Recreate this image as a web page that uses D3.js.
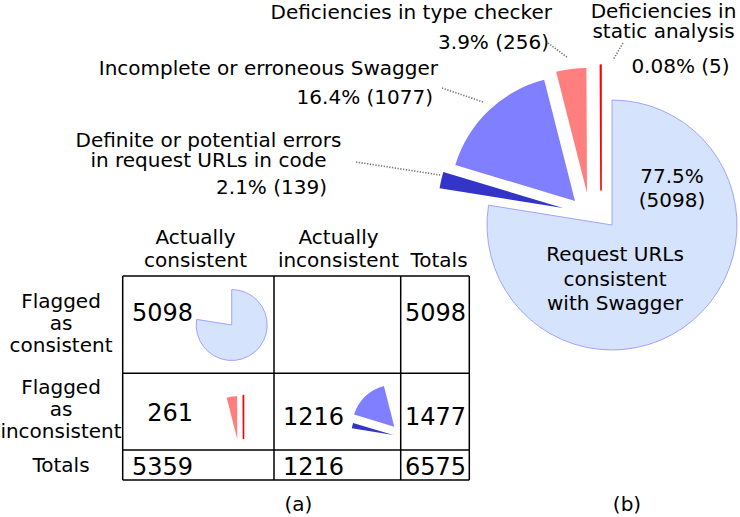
<!DOCTYPE html>
<html>
<head>
<meta charset="utf-8">
<script src="https://cdn.jsdelivr.net/npm/d3@7"></script>
<style>
  body { margin: 0; background: white; }
  text { font-family: "DejaVu Sans", sans-serif; fill: black; }
</style>
</head>
<body>
<svg id="chart" width="740" height="517"></svg>
<script>
// data
var categories = ['Request URLs consistent with Swagger', 'Definite or potential errors in request URLs in code',
    'Incomplete or erroneous Swagger', 'Deficiencies in type checker', 'Deficiencies in static analysis']
var counts = [5098, 139, 1077, 256, 5]
var percents = ['77.5%', '2.1%', '16.4%', '3.9%', '0.08%']
var colLabels = [['Actually', 'consistent'], ['Actually', 'inconsistent'], ['Totals']]
var rowLabels = [['Flagged', 'as', 'consistent'], ['Flagged', 'as', 'inconsistent'], ['Totals']]
var tableValues = [[5098, null, 5098], [261, 1216, 1477], [5359, 1216, 6575]]
var panelLabels = ['(a)', '(b)']

var colors = ['#d6e3fd', '#3434c9', '#7f7fff', '#ff7f7f', '#ff0000']

document.addEventListener('DOMContentLoaded', function() {
    var svg = d3.select('#chart')

    var pie = d3.pie().sort(null).value(function(d) { return d })
    var slices = pie(counts)

    function drawPie(g, idx, r, offsets) {
        var arc = d3.arc().innerRadius(0).outerRadius(r)
        idx.forEach(function(i, k) {
            g.append('path')
            .attr('d', arc(slices[i]))
            .attr('transform', 'translate(' + offsets[k][0] + ',' + offsets[k][1] + ')')
            .style('fill', colors[i])
            .style('stroke', i == 0 ? '#8f8fff' : (i == 4 ? colors[4] : 'none'))
            .style('stroke-width', i == 0 ? 0.8 : 1.6)
            .style('stroke-linejoin', 'round')
        })
    }

    // big exploded pie (b)
    var big = svg.append('g').attr('transform', 'translate(612,225)')
    drawPie(big, [0, 1, 2, 3, 4], 125, [[0, 0], [-49, -17], [-37, -24], [-25, -32], [-11, -35]])

    // leader lines
    var leaders = [[356, 162, 440, 175], [442, 88, 483, 102], [548, 43, 568, 58], [623, 43, 613, 60]]
    svg.selectAll('.leader').data(leaders).enter().append('line')
        .attr('class', 'leader')
        .attr('x1', function(d) { return d[0] }).attr('y1', function(d) { return d[1] })
        .attr('x2', function(d) { return d[2] }).attr('y2', function(d) { return d[3] })
        .style('stroke', '#777').style('stroke-width', 1.6).style('stroke-dasharray', '1.3,1.5')

    function label(x, y, lines, anchor, size, lh) {
        var t = svg.append('text')
            .attr('x', x).attr('y', y)
            .style('text-anchor', anchor)
            .style('font-size', (size || 20) + 'px')
        lines.forEach(function(s, i) {
            t.append('tspan').attr('x', x).attr('dy', i == 0 ? 0 : (lh || 20)).text(s)
        })
    }

    var cnt = function(i) { return percents[i] + ' (' + counts[i] + ')' }
    label(552, 19, ['Deficiencies in type checker'], 'end')
    label(549, 48.5, [cnt(3)], 'end')
    label(663.5, 18, ['Deficiencies in', 'static analysis'], 'middle', 20, 20)
    label(680.5, 73, [cnt(4)], 'middle')
    label(438, 75, ['Incomplete or erroneous Swagger'], 'end')
    label(433, 104, [cnt(2)], 'end')
    label(208.5, 146.5, ['Definite or potential errors', 'in request URLs in code'], 'middle')
    label(327, 194, [cnt(1)], 'end')
    label(672, 182.5, [percents[0], '(' + counts[0] + ')'], 'middle', 20, 24)
    label(615, 261, ['Request URLs', 'consistent', 'with Swagger'], 'middle', 20, 24.5)

    // table (a)
    var xs = [122.7, 274, 400.7, 469.3]
    var ys = [276, 373.3, 450, 480]
    var tg = svg.append('g')
    xs.forEach(function(x) {
        tg.append('line').attr('x1', x).attr('x2', x).attr('y1', ys[0]).attr('y2', ys[3])
        .style('stroke', 'black').style('stroke-width', 1.5)
    })
    ys.forEach(function(y) {
        tg.append('line').attr('x1', xs[0]).attr('x2', xs[3]).attr('y1', y).attr('y2', y)
        .style('stroke', 'black').style('stroke-width', 1.5)
    })

    var headX = [195.5, 338.5, 439]
    colLabels.forEach(function(l, i) {
        label(headX[i], l.length == 2 ? 244 : 267, l, 'middle', 20, 23)
    })
    var rowY = [307.5, 393.5, 471.5]
    rowLabels.forEach(function(l, i) {
        label(61, rowY[i], l, 'middle', 20, 22)
    })

    // numbers: col 0 right aligned, col 1 left aligned, col 2 centred
    var numY = [321, 424.5, 475]
    tableValues.forEach(function(row, r) {
        row.forEach(function(v, c) {
            if (v == null) return
            var x = c == 0 ? 193 : (c == 1 ? 283 : 435.5)
            var a = c == 0 ? 'end' : (c == 1 ? 'start' : 'middle')
            var y = numY[r] - (r == 1 && c == 0 ? 4 : 0)
            label(x, y, [v], a, 24)
        })
    })

    // mini pies in the cells
    drawPie(svg.append('g').attr('transform', 'translate(231.7,325)'), [0], 35.5, [[0, 0]])
    drawPie(svg.append('g').attr('transform', 'translate(240,439)'), [3, 4], 43, [[-2.7, 0.3], [3.5, -0.5]])
    drawPie(svg.append('g').attr('transform', 'translate(394,431)'), [1, 2], 42, [[-0.7, 4], [0.3, -4.3]])

    label(298.5, 511, [panelLabels[0]], 'middle')
    label(627, 511, [panelLabels[1]], 'middle')
})
</script>
</body>
</html>
